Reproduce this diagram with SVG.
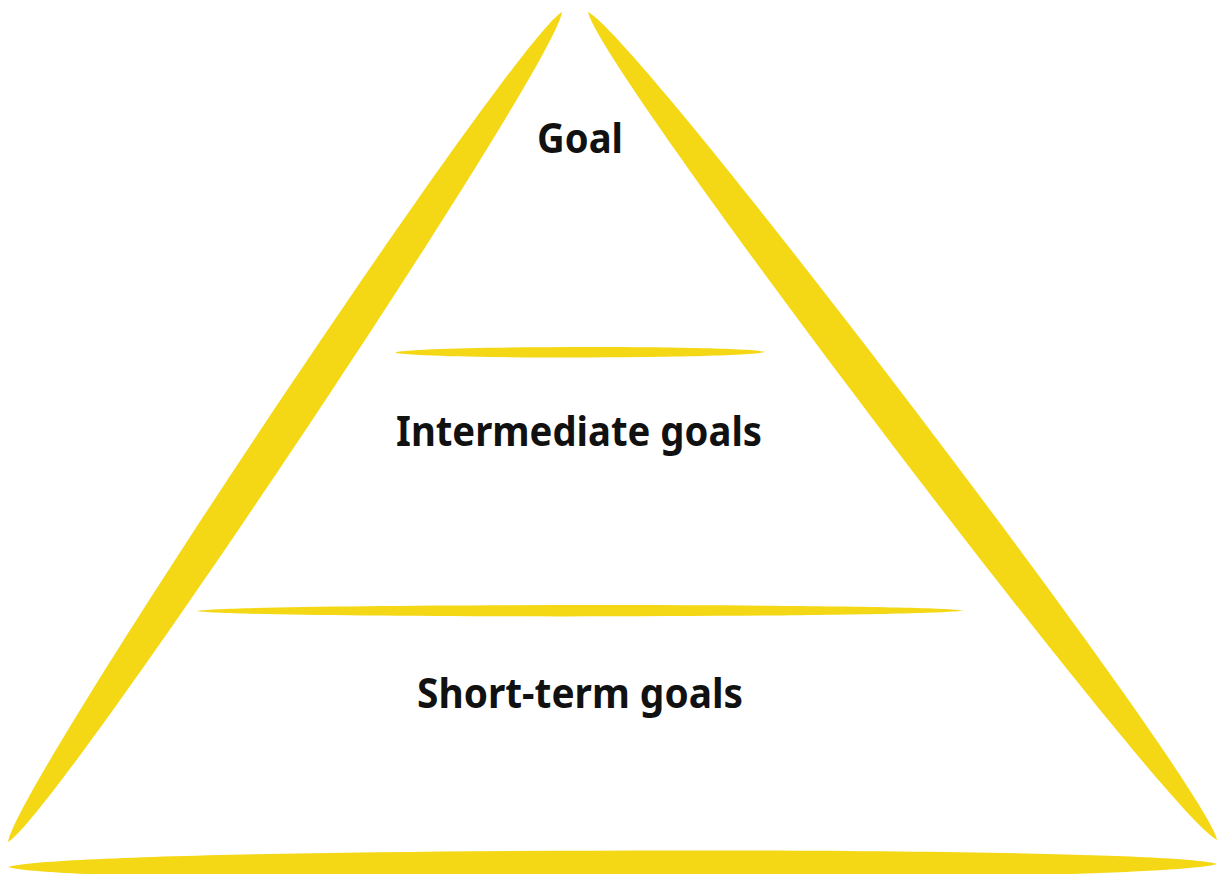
<svg xmlns="http://www.w3.org/2000/svg" width="1223" height="874" viewBox="0 0 1223 874">
  <style>
    .stroke { fill: #F4D816; }
    .label { font-family: "Noto Sans", "Open Sans", "Liberation Sans", sans-serif; font-weight: 700; font-size: 42px; fill: #111111; text-anchor: middle; }
  </style>
  <rect x="0" y="0" width="1223" height="874" fill="#ffffff"/>
  <g id="pyramid-left">
    <path class="stroke" d="M562,12 C555.1,67.4 56.5,814.4 8,842 C14.9,786.6 513.5,39.6 562,12 Z"/>
  </g>
  <g id="pyramid-right">
    <path class="stroke" d="M588,12 C640.15,37.7 1206.25,782.9 1217,840 C1164.85,814.3 598.75,69.1 588,12 Z"/>
  </g>
  <g id="pyramid-base">
    <path class="stroke" d="M8,867 C68,847 1157,844 1217,864 C1157,884 68,887 8,867 Z"/>
  </g>
  <g id="divider-top">
    <path class="stroke" d="M395,352.5 C413,345.5 747,345 765,352 C747,359 413,359.5 395,352.5 Z"/>
  </g>
  <g id="divider-bottom">
    <path class="stroke" d="M197,611 C235,603.5 925,603 963,610.5 C925,618 235,618.5 197,611 Z"/>
  </g>
  <g id="node-goal">
    <text class="label" x="580" y="153" textLength="86" lengthAdjust="spacingAndGlyphs">Goal</text>
  </g>
  <g id="node-intermediate">
    <text class="label" x="579" y="446" textLength="366" lengthAdjust="spacingAndGlyphs">Intermediate goals</text>
  </g>
  <g id="node-short-term">
    <text class="label" x="580" y="708" textLength="326" lengthAdjust="spacingAndGlyphs">Short-term goals</text>
  </g>
</svg>
